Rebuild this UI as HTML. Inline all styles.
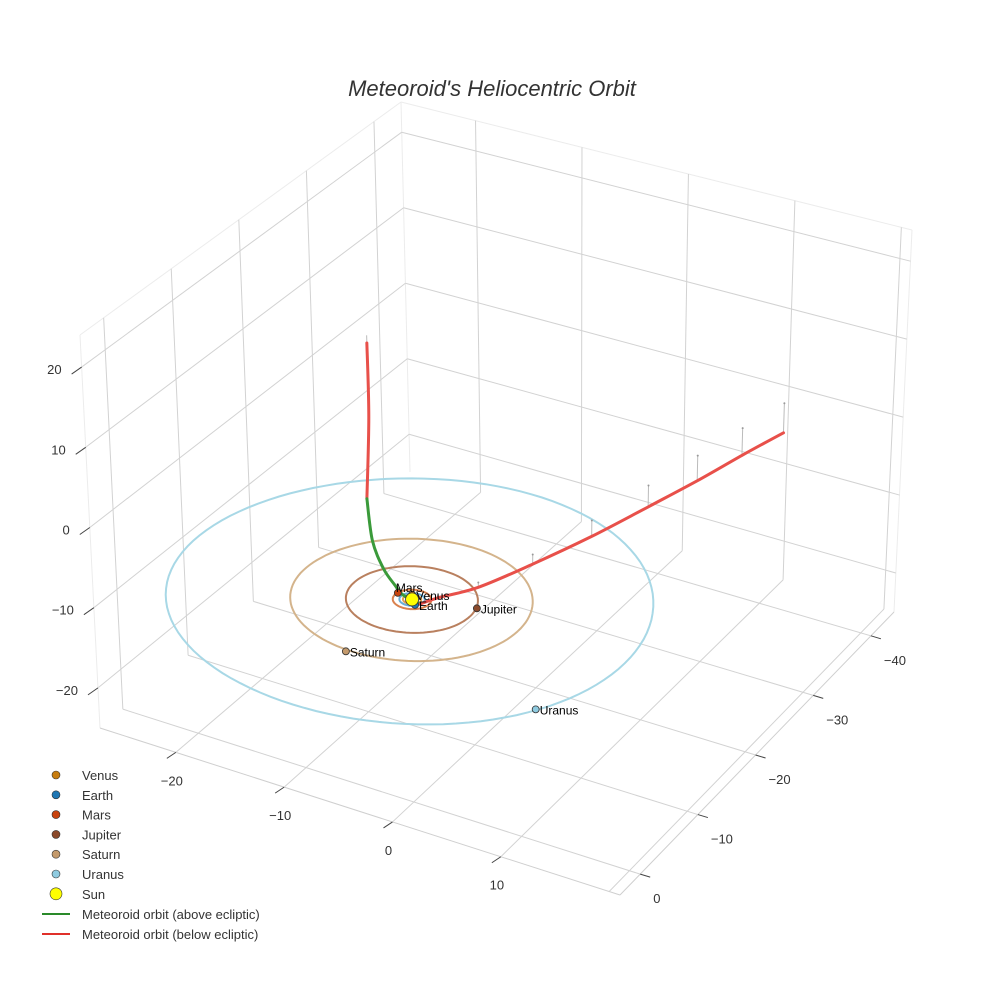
<!DOCTYPE html>
<html><head><meta charset="utf-8">
<style>
html,body{margin:0;padding:0;background:#fff;}
svg{display:block;font-family:"Liberation Sans",Arial,sans-serif;}
</style></head>
<body>
<svg id="chart" width="984" height="984" viewBox="0 0 984 984">
<text x="492" y="96" text-anchor="middle" font-size="22" font-style="italic" fill="#333">Meteoroid's Heliocentric Orbit</text>
<g id="grid"></g>
<g id="axes"></g>
<g id="orbits"></g>
<g id="traj"></g>
<g id="planets"></g>
<g id="legend"></g>
</svg>
<script>
// ---- data ----
const xTicks = [-20, -10, 0, 10, 20];
const yTicks = [-40, -30, -20, -10, 0];
const zTicks = [-20, -10, 0, 10, 20];
const xTickLabels = ["−20", "−10", "0", "10", ""];
const yTickLabels = ["−40", "−30", "−20", "−10", "0"];
const zTickLabels = ["−20", "−10", "0", "10", "20"];
const planetNames = ["Venus", "Earth", "Mars", "Jupiter", "Saturn", "Uranus"];
const planetX = [-0.35, 0.62, -1.46, 5.06, -0.48, 16.4];
const planetY = [-0.63, 0.63, -0.31, -1.43, 9.79, 9.75];
const orbitRadius = [0.72, 1.0, 1.52, 5.2, 9.55, 19.2];
const planetColors = ["#c77c0e", "#1f77b4", "#c8430e", "#8b4a2b", "#c49a6c", "#8fcbe0"];
const orbitColors = ["#e0a050", "#6aaed6", "#d9824f", "#b9805f", "#d4b48c", "#a8d8e6"];
const belowLeftX = [-25, -18, -11];
const belowLeftY = [-35, -24, -12];
const belowLeftZ = [-1, -0.5, 0];
const aboveX = [-11, -7, -4, -2, -0.8, 0.9];
const aboveY = [-12, -6, -2.5, -0.8, 0, 0.3];
const aboveZ = [0, 0.4, 0.5, 0.4, 0.2, 0];
const belowRightX = [0.9, 1.5, 3.2, 4.8, 6.3, 7.6, 8.8, 9.9, 11];
const belowRightY = [0.3, -1.5, -5, -11, -18, -25, -31, -36.5, -41.5];
const belowRightZ = [0, -0.2, -0.6, -1.2, -2.0, -2.7, -3.2, -3.5, -3.8];

// ---- projection ----
const XMIN=-27, XMAX=21, YMIN=-44, YMAX=3.5, ZMIN=-25, ZMAX=24;
const FB={B:[410,472],L:[100,728],R:[894,612],F:[620,895]};
const TP={B:[401,102],L:[80,335],R:[912,230],F:[628,492]};
function bil(c,u,v,i){return (1-u)*(1-v)*c.B[i]+(1-u)*v*c.L[i]+u*(1-v)*c.R[i]+u*v*c.F[i];}
function proj(x,y,z){
  const u=(x-XMIN)/(XMAX-XMIN), v=(y-YMIN)/(YMAX-YMIN), w=(z-ZMIN)/(ZMAX-ZMIN);
  const fx=bil(FB,u,v,0), fy=bil(FB,u,v,1), tx=bil(TP,u,v,0), ty=bil(TP,u,v,1);
  return [fx+(tx-fx)*w, fy+(ty-fy)*w];
}
const NS="http://www.w3.org/2000/svg";
function el(tag,attrs,parent){const e=document.createElementNS(NS,tag);for(const k in attrs)e.setAttribute(k,attrs[k]);parent.appendChild(e);return e;}
function line3(a,b,attrs,parent){const p=proj(...a),q=proj(...b);return el('line',Object.assign({x1:p[0],y1:p[1],x2:q[0],y2:q[1]},attrs),parent);}

const grid=document.getElementById('grid');
const gs={stroke:"#d2d2d2","stroke-width":1};
const edge={stroke:"#ececec","stroke-width":1};
[[[XMIN,YMAX,ZMAX],[XMIN,YMIN,ZMAX]],[[XMIN,YMIN,ZMAX],[XMAX,YMIN,ZMAX]],[[XMIN,YMAX,ZMIN],[XMIN,YMAX,ZMAX]],[[XMAX,YMIN,ZMIN],[XMAX,YMIN,ZMAX]],[[XMIN,YMIN,ZMIN],[XMIN,YMIN,ZMAX]]].forEach(s=>{
  const l=line3(s[0],s[1],edge,grid);
  
  
});
[[[XMIN,YMAX,ZMIN],[XMAX,YMAX,ZMIN]],[[XMAX,YMAX,ZMIN],[XMAX,YMIN,ZMIN]]].forEach(s=>{
  const l=line3(s[0],s[1],{stroke:"#cfcfcf","stroke-width":1},grid);
  
  
});
xTicks.forEach(x=>{
  const a=line3([x,YMIN,ZMIN],[x,YMAX,ZMIN],gs,grid);
  
  
  const b=line3([x,YMIN,ZMIN],[x,YMIN,ZMAX],gs,grid);
  
  
});
yTicks.forEach(y=>{
  const a=line3([XMIN,y,ZMIN],[XMAX,y,ZMIN],gs,grid);
  
  
  const b=line3([XMIN,y,ZMIN],[XMIN,y,ZMAX],gs,grid);
  
  
});
zTicks.forEach(z=>{
  const a=line3([XMIN,YMAX,z],[XMIN,YMIN,z],gs,grid);
  
  
  const b=line3([XMIN,YMIN,z],[XMAX,YMIN,z],gs,grid);
  
  
});

// axes ticks & labels
const axes=document.getElementById('axes');
xTicks.forEach((x,i)=>{
  if(!xTickLabels[i])return;
  const p=proj(x,YMAX,ZMIN);
  const t=el('line',{x1:p[0],y1:p[1],x2:p[0]-9,y2:p[1]+6,stroke:"#444","stroke-width":1},axes);
  
  
  const tx=el('text',{x:p[0]-4,y:p[1]+33,"text-anchor":"middle","font-size":13,fill:"#333"},axes);
  tx.textContent=xTickLabels[i];
  
  
});
yTicks.forEach((y,i)=>{
  const p=proj(XMAX,y,ZMIN);
  const t=el('line',{x1:p[0],y1:p[1],x2:p[0]+10,y2:p[1]+3,stroke:"#444","stroke-width":1},axes);
  
  
  const tx=el('text',{x:p[0]+13,y:p[1]+29,"text-anchor":"start","font-size":13,fill:"#333"},axes);
  tx.textContent=yTickLabels[i];
  
  
});
zTicks.forEach((z,i)=>{
  const p=proj(XMIN,YMAX,z);
  const t=el('line',{x1:p[0],y1:p[1],x2:p[0]-10,y2:p[1]+7,stroke:"#444","stroke-width":1},axes);
  
  
  const tx=el('text',{x:p[0]-20,y:p[1]+7,"text-anchor":"end","font-size":13,fill:"#333"},axes);
  tx.textContent=zTickLabels[i];
  
  
});

// orbits
const orbits=document.getElementById('orbits');
orbitRadius.forEach((r,i)=>{
  let d="";
  for(let k=0;k<=120;k++){const a=k/120*2*Math.PI;const p=proj(r*Math.cos(a),r*Math.sin(a),0);d+=(k?"L":"M")+p[0].toFixed(1)+","+p[1].toFixed(1);}
  const o=el('path',{d:d,fill:"none",stroke:orbitColors[i],"stroke-width":2},orbits);
  
  
});

// trajectory
const traj=document.getElementById('traj');
function smooth(xs,ys,zs){
  const P=xs.map((x,i)=>proj(x,ys[i],zs[i]));
  let d="M"+P[0][0]+","+P[0][1];
  for(let i=0;i<P.length-1;i++){
    const p0=P[Math.max(0,i-1)],p1=P[i],p2=P[i+1],p3=P[Math.min(P.length-1,i+2)];
    const c1=[p1[0]+(p2[0]-p0[0])/6,p1[1]+(p2[1]-p0[1])/6],c2=[p2[0]-(p3[0]-p1[0])/6,p2[1]-(p3[1]-p1[1])/6];
    d+="C"+c1[0].toFixed(1)+","+c1[1].toFixed(1)+" "+c2[0].toFixed(1)+","+c2[1].toFixed(1)+" "+p2[0].toFixed(1)+","+p2[1].toFixed(1);
  }
  return d;
}
belowRightX.forEach((x,i)=>{
  if(i<1)return;
  const a=proj(x,belowRightY[i],belowRightZ[i]),b=proj(x,belowRightY[i],0);
  const l=el('line',{x1:a[0],y1:a[1],x2:b[0],y2:b[1],stroke:"#bbb","stroke-width":1},traj);
  
  
  const c=el('circle',{cx:b[0],cy:b[1],r:1,fill:"#999"},traj);
  
  
});
{
  const a=proj(belowLeftX[0],belowLeftY[0],belowLeftZ[0]),b=proj(belowLeftX[0],belowLeftY[0],0);
  const l=el('line',{x1:a[0],y1:a[1],x2:b[0],y2:b[1],stroke:"#bbb","stroke-width":1},traj);
  
  
}
const t1=el('path',{d:smooth(belowLeftX,belowLeftY,belowLeftZ),fill:"none",stroke:"#e8504a","stroke-width":3,"stroke-linecap":"round"},traj);


const t2=el('path',{d:smooth(aboveX,aboveY,aboveZ),fill:"none",stroke:"#3a9a3a","stroke-width":3,"stroke-linecap":"round"},traj);


const t3=el('path',{d:smooth(belowRightX,belowRightY,belowRightZ),fill:"none",stroke:"#e8504a","stroke-width":3,"stroke-linecap":"round"},traj);



// planets & sun
const planets=document.getElementById('planets');
const sp=proj(0,0,0);
planetNames.forEach((n,i)=>{
  const p=proj(planetX[i],planetY[i],0);
  const c=el('circle',{cx:p[0],cy:p[1],r:3.5,fill:planetColors[i],stroke:"#333","stroke-width":0.8},planets);
  
  
  const t=el('text',{x:p[0]+(n==="Mars"?-2:4),y:p[1]+(n==="Mars"?-1:5),"font-size":12,fill:"#000"},planets);
  t.textContent=n;
  
  
});
const sun=el('circle',{cx:sp[0],cy:sp[1],r:6.5,fill:"#ffff00",stroke:"#333","stroke-width":0.8},planets);



// legend
const lg=document.getElementById('legend');
const legNames=planetNames.concat(["Sun"]);
const legCols=planetColors.concat(["#ffff00"]);
legNames.forEach((n,i)=>{
  const y=775+i*19.8;
  const c=el('circle',{cx:56,cy:y,r:n==="Sun"?6:4,fill:legCols[i],stroke:"#333","stroke-width":0.6},lg);
  
  
  const t=el('text',{x:82,y:y+5,"font-size":13,fill:"#333"},lg);
  t.textContent=n;
  
  
});
[["Meteoroid orbit (above ecliptic)","#2a8a2a"],["Meteoroid orbit (below ecliptic)","#e0302a"]].forEach((e,i)=>{
  const y=914+i*20;
  const l=el('line',{x1:42,y1:y,x2:70,y2:y,stroke:e[1],"stroke-width":2},lg);
  
  
  const t=el('text',{x:82,y:y+5,"font-size":13,fill:"#333"},lg);
  t.textContent=e[0];
  
  
});
</script>
</body></html>
